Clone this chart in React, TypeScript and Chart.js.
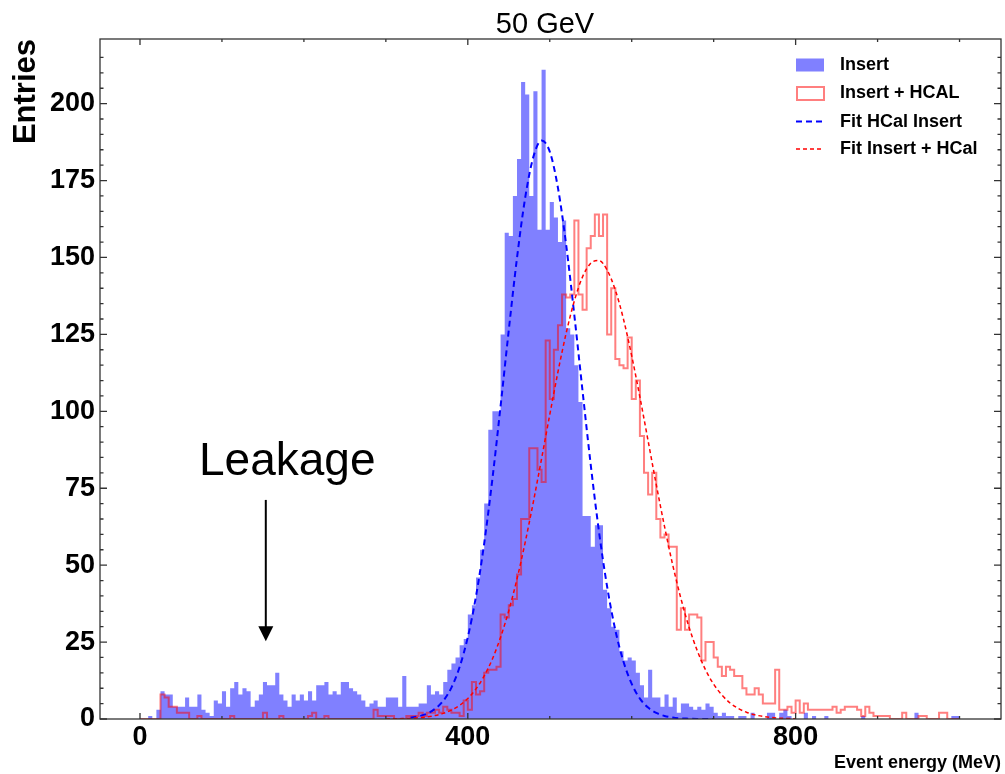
import React, { useEffect, useRef } from "react";
import { Chart, registerables } from "chart.js";

Chart.register(...registerables);

const FONT = "'Liberation Sans', Arial, Helvetica, sans-serif";

// Histogram binning (MeV)
const BIN_LOW = 0;
const BIN_WIDTH = 5;

// "Insert" histogram counts, 200 bins of 5 MeV from 0 to 1000 MeV
const insertCounts = [
  1, 0, 0, 1, 0, 3, 9, 8, 8, 4,
  4, 4, 7, 4, 4, 8, 3, 2, 1, 6,
  5, 9, 4, 10, 12, 8, 10, 9, 4, 6,
  8, 12, 11, 11, 15, 8, 6, 4, 8, 6,
  8, 6, 9, 6, 11, 11, 12, 8, 9, 8,
  12, 12, 10, 9, 8, 6, 4, 5, 6, 4,
  4, 7, 7, 7, 4, 14, 4, 4, 4, 5,
  5, 11, 8, 9, 8, 12, 16, 18, 20, 24,
  26, 34, 37, 46, 55, 70, 94, 100, 100, 125,
  158, 157, 170, 182, 207, 203, 170, 204, 159, 211,
  159, 168, 163, 155, 162, 127, 125, 115, 103, 66,
  66, 56, 63, 63, 42, 36, 30, 29, 22, 19,
  20, 19, 15, 11, 7, 16, 7, 7, 4, 8,
  4, 7, 2, 5, 5, 4, 3, 4, 3, 5,
  4, 2, 1, 2, 1, 1, 0, 1, 1, 0,
  2, 0, 0, 0, 2, 2, 0, 2, 3, 1,
  0, 0, 0, 2, 0, 1, 0, 0, 1, 0,
  0, 0, 0, 0, 0, 0, 0, 1, 0, 0,
  0, 0, 0, 0, 0, 0, 0, 0, 0, 0,
  2, 0, 0, 0, 0, 0, 0, 0, 0, 1,
];

// "Insert + HCAL" histogram counts, same binning
const insertHcalCounts = [
  0, 0, 0, 0, 0, 0, 8, 7, 4, 4,
  2, 2, 2, 0, 0, 1, 0, 0, 0, 0,
  0, 0, 0, 1, 0, 0, 0, 0, 0, 0,
  0, 2, 0, 0, 0, 1, 0, 0, 0, 0,
  0, 0, 1, 2, 0, 0, 1, 0, 0, 0,
  0, 0, 0, 0, 0, 0, 0, 0, 3, 1,
  1, 1, 1, 0, 0, 0, 1, 1, 1, 2,
  1, 2, 2, 3, 2, 4, 3, 2, 2, 1,
  6, 3, 12, 8, 9, 15, 16, 16, 17, 34,
  33, 37, 39, 47, 65, 65, 88, 88, 81, 77,
  123, 104, 120, 128, 138, 137, 138, 162, 138, 133,
  153, 157, 164, 157, 164, 125, 140, 117, 115, 114,
  124, 104, 110, 92, 80, 73, 80, 65, 59, 60,
  56, 56, 29, 36, 29, 34, 34, 33, 19, 25,
  25, 20, 17, 14, 17, 16, 14, 14, 10, 8,
  8, 10, 8, 5, 5, 5, 16, 3, 3, 4,
  2, 6, 2, 5, 3, 3, 3, 3, 3, 3,
  4, 2, 3, 4, 4, 4, 3, 1, 4, 2,
  1, 1, 1, 1, 0, 0, 0, 2, 0, 0,
  0, 1, 1, 0, 0, 0, 2, 2, 0, 0,
];

// Fit curve "Fit HCal Insert"
const fitInsertE = [
  330, 340, 350, 360, 370, 380, 390, 400, 410, 420,
  430, 440, 450, 460, 470, 480, 490, 500, 510, 520,
  530, 540, 550, 560, 570, 580, 590, 600, 610, 620,
  630, 640, 650, 660, 670, 680, 690, 700,
];
const fitInsertY = [
  0.4, 0.9, 1.7, 3.3, 5.9, 10.2, 16.9, 26.6, 39.9, 57.1,
  78.0, 101.7, 126.4, 149.8, 169.4, 182.7, 188.0, 184.4, 172.6, 154.1,
  131.2, 106.6, 82.6, 61.0, 43.0, 28.9, 18.6, 11.4, 6.6, 3.7,
  2.0, 1.0, 0.5, 0.2, 0.1, 0.0, 0.0, 0.0,
];

// Fit curve "Fit Insert + HCal"
const fitHcalE = [
  300, 310, 320, 330, 340, 350, 360, 370, 380, 390,
  400, 410, 420, 430, 440, 450, 460, 470, 480, 490,
  500, 510, 520, 530, 540, 550, 560, 570, 580, 590,
  600, 610, 620, 630, 640, 650, 660, 670, 680, 690,
  700, 710, 720, 730, 740, 750, 760, 770, 780, 790,
  800,
];
const fitHcalY = [
  0.04, 0.07, 0.13, 0.23, 0.4, 0.67, 1.12, 1.82, 2.88, 4.44,
  6.68, 9.79, 14.0, 19.5, 26.6, 35.2, 45.5, 57.4, 70.6, 84.6,
  98.9, 112.8, 125.4, 135.9, 143.7, 148.1, 149.0, 145.9, 139.4, 129.9,
  118.0, 104.6, 90.4, 76.1, 62.6, 50.1, 39.2, 29.8, 22.2, 16.0,
  11.3, 7.8, 5.2, 3.43, 2.19, 1.37, 0.83, 0.49, 0.28, 0.16,
  0.09,
];

// Axis ticks
const xTickValues = [0, 100, 200, 300, 400, 500, 600, 700, 800, 900, 1000];
const xTickLabels = [0, 400, 800];
const yTickLabels = [0, 25, 50, 75, 100, 125, 150, 175, 200];

// Annotation (data coordinates)
const leakageLabel = { text: "Leakage", x: 72, y: 79.3 };
const leakageArrow = { x: 153.5, from: 71.2, to: 25.3 };

const titleText = "50 GeV";

function stepPoints(counts: number[]) {
  const pts: { x: number; y: number }[] = [{ x: BIN_LOW, y: 0 }];
  counts.forEach((c, i) => pts.push({ x: BIN_LOW + i * BIN_WIDTH, y: c }));
  const end = BIN_LOW + counts.length * BIN_WIDTH;
  pts.push({ x: end, y: counts[counts.length - 1] });
  pts.push({ x: end, y: 0 });
  return pts;
}

function zip(xs: number[], ys: number[]) {
  return xs.map((x, i) => ({ x, y: ys[i] }));
}

const decorPlugin = {
  id: "decor",
  afterDatasetsDraw(chart: any) {
    const { ctx, chartArea: a, scales } = chart;
    const xs = scales.x;
    const ys = scales.y;
    ctx.save();
    ctx.strokeStyle = "#333";
    ctx.lineWidth = 1.3;
    ctx.beginPath();
    for (const t of xs.ticks) {
      const v = t.value;
      const px = xs.getPixelForValue(v);
      const len = xTickLabels.includes(v) ? 6 : 3;
      ctx.moveTo(px, a.bottom);
      ctx.lineTo(px, a.bottom - len);
      ctx.moveTo(px, a.top);
      ctx.lineTo(px, a.top + len);
    }
    for (const t of ys.ticks) {
      const v = t.value;
      if (Math.abs(v % 5) > 1e-6) continue;
      const py = ys.getPixelForValue(v);
      const len = yTickLabels.includes(v) ? 7 : 3.5;
      ctx.moveTo(a.left, py);
      ctx.lineTo(a.left + len, py);
      ctx.moveTo(a.right, py);
      ctx.lineTo(a.right - len, py);
    }
    ctx.stroke();
    ctx.strokeRect(a.left, a.top, a.right - a.left, a.bottom - a.top);
    ctx.restore();
  },
  afterDraw(chart: any) {
    const { ctx, chartArea: a, scales } = chart;
    const xs = scales.x;
    const ys = scales.y;
    const ds = chart.data.datasets;
    ctx.save();

    // Title
    ctx.fillStyle = "#000";
    ctx.font = `normal 29px ${FONT}`;
    ctx.textAlign = "center";
    ctx.textBaseline = "alphabetic";
    ctx.fillText(titleText, 545, 33);

    // Legend
    const lx = a.right - 205;
    const rows = [a.top + 26, a.top + 54, a.top + 82.5, a.top + 110];
    ctx.font = `bold 18px ${FONT}`;
    ctx.textAlign = "left";
    ctx.textBaseline = "middle";
    ctx.fillStyle = ds[0].backgroundColor;
    ctx.fillRect(lx, rows[0] - 6.5, 28, 13);
    ctx.strokeStyle = ds[1].borderColor;
    ctx.lineWidth = 2;
    ctx.strokeRect(lx + 1, rows[1] - 6, 27, 13);
    for (let k = 2; k < 4; k++) {
      ctx.beginPath();
      ctx.strokeStyle = ds[k].borderColor;
      ctx.lineWidth = ds[k].borderWidth;
      ctx.setLineDash(ds[k].borderDash);
      ctx.moveTo(lx, rows[k]);
      ctx.lineTo(lx + 28, rows[k]);
      ctx.stroke();
    }
    ctx.setLineDash([]);
    ctx.fillStyle = "#000";
    for (let k = 0; k < 4; k++) {
      ctx.fillText(ds[k].label, lx + 44, rows[k] + 0.5);
    }

    // Leakage annotation
    ctx.font = `normal 46px ${FONT}`;
    ctx.textAlign = "left";
    ctx.textBaseline = "alphabetic";
    ctx.fillText(
      leakageLabel.text,
      xs.getPixelForValue(leakageLabel.x),
      ys.getPixelForValue(leakageLabel.y)
    );
    const ax = xs.getPixelForValue(leakageArrow.x);
    const ay0 = ys.getPixelForValue(leakageArrow.from);
    const ay1 = ys.getPixelForValue(leakageArrow.to);
    ctx.strokeStyle = "#000";
    ctx.lineWidth = 2;
    ctx.beginPath();
    ctx.moveTo(ax, ay0);
    ctx.lineTo(ax, ay1 - 14);
    ctx.stroke();
    ctx.fillStyle = "#000";
    ctx.beginPath();
    ctx.moveTo(ax - 7.5, ay1 - 15);
    ctx.lineTo(ax + 7.5, ay1 - 15);
    ctx.lineTo(ax, ay1);
    ctx.closePath();
    ctx.fill();

    ctx.restore();
  },
};

export default function App() {
  const ref = useRef<HTMLCanvasElement | null>(null);

  useEffect(() => {
    if (!ref.current) return;
    const chart = new Chart(ref.current, {
      type: "line",
      data: {
        datasets: [
          {
            label: "Insert",
            data: stepPoints(insertCounts),
            stepped: "after",
            fill: "origin",
            backgroundColor: "#8080ff",
            borderColor: "rgba(0,0,0,0)",
            borderWidth: 0,
            pointRadius: 0,
            order: 3,
          },
          {
            label: "Insert + HCAL",
            data: stepPoints(insertHcalCounts),
            stepped: "after",
            fill: false,
            borderColor: "rgba(255,0,0,0.5)",
            borderWidth: 2,
            pointRadius: 0,
            order: 2,
          },
          {
            label: "Fit HCal Insert",
            data: zip(fitInsertE, fitInsertY),
            fill: false,
            borderColor: "#0000ff",
            borderWidth: 2,
            borderDash: [6, 4],
            pointRadius: 0,
            cubicInterpolationMode: "monotone",
            order: 1,
          },
          {
            label: "Fit Insert + HCal",
            data: zip(fitHcalE, fitHcalY),
            fill: false,
            borderColor: "#ff0000",
            borderWidth: 1.5,
            borderDash: [4, 3],
            pointRadius: 0,
            cubicInterpolationMode: "monotone",
            order: 0,
          },
        ] as any,
      },
      options: {
        animation: false,
        responsive: false,
        events: [],
        layout: { padding: { top: 39, right: 4, left: 0, bottom: 0 } },
        plugins: {
          legend: { display: false },
          tooltip: { enabled: false },
          title: { display: false },
        },
        scales: {
          x: {
            type: "linear",
            min: -48.8,
            max: 1050.6,
            grid: { display: false, drawTicks: false },
            border: { display: false },
            afterBuildTicks: (s: any) => {
              s.ticks = xTickValues.map((v) => ({ value: v }));
            },
            ticks: {
              autoSkip: false,
              maxRotation: 0,
              padding: 2,
              color: "#000",
              font: { family: FONT, size: 27, weight: "bold" },
              callback: (v: any) => (xTickLabels.includes(Number(v)) ? String(v) : ""),
            },
            title: {
              display: true,
              text: "Event energy (MeV)",
              align: "end",
              color: "#000",
              font: { family: FONT, size: 18, weight: "bold" },
              padding: { top: 0, bottom: 0 },
            },
            afterFit: (s: any) => {
              s.height = 55;
            },
          },
          y: {
            type: "linear",
            min: 0,
            max: 221,
            grid: { display: false, drawTicks: false },
            border: { display: false },
            ticks: {
              stepSize: 5,
              autoSkip: false,
              padding: 5,
              color: "#000",
              font: { family: FONT, size: 27, weight: "bold" },
              callback: (v: any) => (yTickLabels.includes(Number(v)) ? String(v) : ""),
            },
            title: {
              display: true,
              text: "Entries",
              align: "end",
              color: "#000",
              font: { family: FONT, size: 31, weight: "bold" },
              padding: { top: 8, bottom: 0 },
            },
            afterFit: (s: any) => {
              s.width = 100;
            },
          },
        },
      } as any,
      plugins: [decorPlugin],
    });
    return () => chart.destroy();
  }, []);

  return (
    <div
      style={{
        position: "fixed",
        left: 0,
        top: 0,
        width: 1005,
        height: 774,
        background: "#fff",
      }}
    >
      <canvas ref={ref} width={1005} height={774} />
    </div>
  );
}
